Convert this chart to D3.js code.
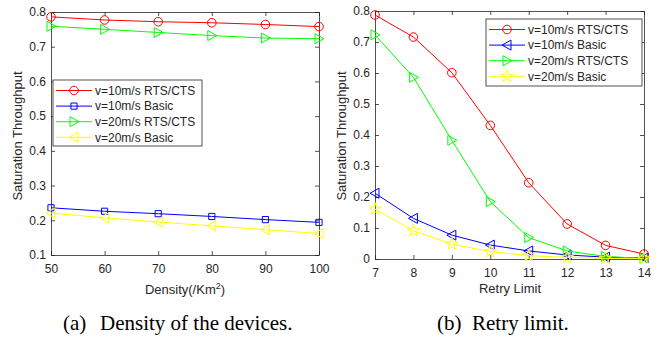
<!DOCTYPE html>
<html>
<head>
<meta charset="utf-8">
<script src="https://cdn.jsdelivr.net/npm/d3@7"></script>
<style>
  body { margin: 0; background: #fff; }
  svg { display: block; }
  text { font-family: "Liberation Sans", Arial, sans-serif; fill: #262626; }
  .caption { font-family: "Liberation Serif", "Times New Roman", serif; fill: #000; }
</style>
</head>
<body>
<svg id="chart" width="664" height="337"></svg>
<script>
// ---- data: (a) density of the devices ----
const densityX = [50, 60, 70, 80, 90, 100];
const densityRts10 = [0.786, 0.777, 0.772, 0.769, 0.764, 0.758];
const densityBasic10 = [0.236, 0.226, 0.219, 0.211, 0.202, 0.194];
const densityRts20 = [0.759, 0.750, 0.741, 0.732, 0.725, 0.723];
const densityBasic20 = [0.221, 0.207, 0.195, 0.184, 0.173, 0.162];
const densityYTicks = [0.1, 0.2, 0.3, 0.4, 0.5, 0.6, 0.7, 0.8];

// ---- data: (b) retry limit ----
const retryX = [7, 8, 9, 10, 11, 12, 13, 14];
const retryRts10 = [0.787, 0.716, 0.601, 0.431, 0.246, 0.113, 0.044, 0.016];
const retryBasic10 = [0.212, 0.131, 0.077, 0.045, 0.026, 0.013, 0.006, 0.003];
const retryRts20 = [0.723, 0.586, 0.383, 0.185, 0.069, 0.026, 0.008, 0.002];
const retryBasic20 = [0.161, 0.091, 0.048, 0.024, 0.011, 0.005, 0.002, 0.001];
const retryYTicks = [0, 0.1, 0.2, 0.3, 0.4, 0.5, 0.6, 0.7, 0.8];

const seriesNames = ['v=10m/s RTS/CTS', 'v=10m/s Basic', 'v=20m/s RTS/CTS', 'v=20m/s Basic'];
const seriesColors = ['#ff0000', '#0000ff', '#00ff00', '#ffff00'];

const svg = d3.select('#chart');
const axisColor = '#262626';

// marker shapes, centred on 0,0
const markers = {
  circle: d3.symbol().type(d3.symbolCircle).size(58)(),
  square: d3.symbol().type(d3.symbolSquare).size(38)(),
  star: d3.symbol().type(d3.symbolStar).size(48)(),
  triRight: 'M-4,-5L5,0L-4,5Z',
  triLeft: 'M4,-5L-5,0L4,5Z'
};

function drawPanel(opt) {
  const g = svg.append('g');
  const x = d3.scaleLinear().domain(opt.xDomain).range([opt.left, opt.right]);
  const y = d3.scaleLinear().domain(opt.yDomain).range([opt.bottom, opt.top]);

  // axes (ticks pointing inwards, box with ticks on every side)
  const bottomAxis = d3.axisBottom(x).tickValues(opt.xTicks).tickSizeInner(-4).tickSizeOuter(0).tickPadding(9)
    .tickFormat(d3.format('d'));
  const leftAxis = d3.axisLeft(y).tickValues(opt.yTicks).tickSizeInner(-4).tickSizeOuter(0).tickPadding(5)
    .tickFormat(d => d === 0 ? '0' : d3.format('.1f')(d));
  const topAxis = d3.axisTop(x).tickValues(opt.xTicks).tickSizeInner(-4).tickSizeOuter(0).tickFormat('');
  const rightAxis = d3.axisRight(y).tickValues(opt.yTicks).tickSizeInner(-4).tickSizeOuter(0).tickFormat('');

  const axes = [
    [bottomAxis, `translate(0,${opt.bottom})`],
    [leftAxis, `translate(${opt.left},0)`],
    [topAxis, `translate(0,${opt.top})`],
    [rightAxis, `translate(${opt.right},0)`]
  ];
  axes.forEach(([ax, tr]) => {
    const a = g.append('g').attr('transform', tr).call(ax);
    a.selectAll('path, line').attr('stroke', axisColor).attr('stroke-width', 0.8);
    a.selectAll('text').attr('fill', axisColor).style('font-size', '12px')
      .style('font-family', '"Liberation Sans", Arial, sans-serif');
  });

  // lines and markers
  const line = d3.line().x((d, i) => x(opt.xs[i])).y(d => y(d));
  opt.series.forEach((vals, k) => {
    g.append('path')
      .datum(vals)
      .attr('fill', 'none')
      .attr('stroke', seriesColors[k])
      .attr('stroke-width', 1)
      .attr('d', line);
    g.selectAll(null)
      .data(vals)
      .join('path')
      .attr('transform', (d, i) => `translate(${x(opt.xs[i])},${y(d)})`)
      .attr('d', markers[opt.markers[k]])
      .attr('fill', 'none')
      .attr('stroke', seriesColors[k])
      .attr('stroke-width', 1);
  });

  // legend
  const lg = g.append('g').attr('transform', `translate(${opt.legend.x},${opt.legend.y})`);
  lg.append('rect')
    .attr('width', opt.legend.w).attr('height', opt.legend.h)
    .attr('fill', '#fff').attr('stroke', axisColor).attr('stroke-width', 0.8);
  seriesNames.forEach((name, k) => {
    const ry = 10.5 + k * 15.6;
    lg.append('line').attr('x1', 3).attr('x2', 39).attr('y1', ry).attr('y2', ry)
      .attr('stroke', seriesColors[k]).attr('stroke-width', 1);
    lg.append('path').attr('transform', `translate(21,${ry})`)
      .attr('d', markers[opt.markers[k]])
      .attr('fill', 'none').attr('stroke', seriesColors[k]).attr('stroke-width', 1);
    lg.append('text').attr('x', 42).attr('y', ry + 4.3)
      .style('font-size', '12px').attr('fill', '#000').text(name);
  });

  // y label
  g.append('text')
    .attr('transform', `translate(${opt.yLabelX},${opt.yLabelY}) rotate(-90)`)
    .attr('text-anchor', 'middle')
    .style('font-size', '13px')
    .text('Saturation Throughput');

  return { g, x, y };
}

const a = drawPanel({
  left: 51, right: 319, top: 12, bottom: 255,
  xDomain: [50, 100], yDomain: [0.1, 0.8],
  xTicks: densityX, yTicks: densityYTicks,
  xs: densityX,
  series: [densityRts10, densityBasic10, densityRts20, densityBasic20],
  markers: ['circle', 'square', 'triRight', 'triLeft'],
  legend: { x: 53, y: 80, w: 149, h: 66 },
  yLabelX: 22, yLabelY: 136
});
const axLabelA = a.g.append('text').attr('x', 185).attr('y', 294).attr('text-anchor', 'middle').style('font-size', '13px');
axLabelA.append('tspan').text('Density(/Km');
axLabelA.append('tspan').attr('dy', -5).style('font-size', '9px').text('2');
axLabelA.append('tspan').attr('dy', 5).text(')');

const b = drawPanel({
  left: 375, right: 644, top: 11, bottom: 259,
  xDomain: [7, 14], yDomain: [0, 0.8],
  xTicks: retryX, yTicks: retryYTicks,
  xs: retryX,
  series: [retryRts10, retryBasic10, retryRts20, retryBasic20],
  markers: ['circle', 'triLeft', 'triRight', 'star'],
  legend: { x: 486, y: 19, w: 156, h: 67 },
  yLabelX: 346, yLabelY: 136
});
b.g.append('text').attr('x', 510).attr('y', 293).attr('text-anchor', 'middle').style('font-size', '13px').text('Retry Limit');

// captions
svg.append('text').attr('class', 'caption').attr('x', 63).attr('y', 330).style('font-size', '21px').text('(a)');
svg.append('text').attr('class', 'caption').attr('x', 100).attr('y', 330).style('font-size', '21px').text('Density of the devices.');
svg.append('text').attr('class', 'caption').attr('x', 437).attr('y', 330).style('font-size', '21px').text('(b)');
svg.append('text').attr('class', 'caption').attr('x', 472).attr('y', 330).style('font-size', '21px').text('Retry limit.');
</script>
</body>
</html>
